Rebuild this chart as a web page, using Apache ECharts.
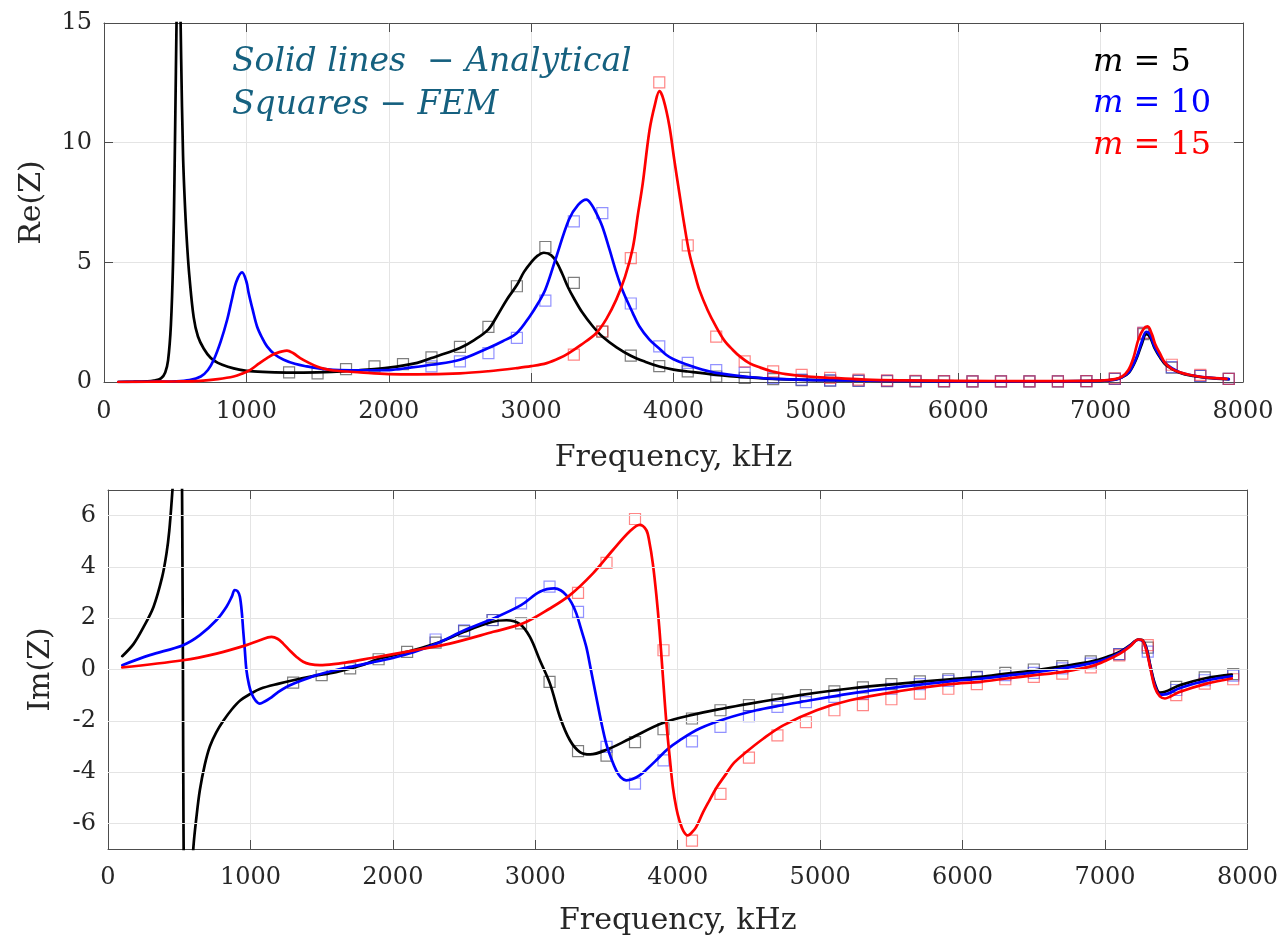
<!DOCTYPE html>
<html><head><meta charset="utf-8">
<script src="https://cdn.jsdelivr.net/npm/echarts@6/dist/echarts.min.js"></script>
<style>html,body{margin:0;padding:0;background:#fff}#c{width:1281px;height:945px}</style>
</head><body><div id="c"></div>
<script>
// ---------- tick labels ----------
const freqTicks = [0,1000,2000,3000,4000,5000,6000,7000,8000];
const reTicks = [0,5,10,15];
const imTicks = [-6,-4,-2,0,2,4,6];

// ---------- analytical curves: Re(Z) ----------
const reM5 = [[100,0],[200,0.01],[300,0.03],[350,0.06],[400,0.15],[430,0.4],[450,0.9],[470,2.4],[485,5],[495,8.5],[505,13],[515,17],[523,18.2],[532,17],[542,13.5],[555,9.5],[570,7.2],[585,5.6],[600,4.4],[630,2.7],[660,1.9],[700,1.4],[750,1.0],[800,0.8],[870,0.64],[950,0.52],[1050,0.44],[1200,0.4],[1400,0.39],[1600,0.42],[1800,0.5],[2000,0.6],[2200,0.8],[2300,1.0],[2400,1.2],[2500,1.42],[2600,1.75],[2700,2.2],[2760,2.75],[2830,3.45],[2900,4.05],[2950,4.6],[3000,5.0],[3040,5.25],[3090,5.4],[3140,5.3],[3180,5.0],[3220,4.5],[3260,3.95],[3300,3.5],[3360,2.9],[3430,2.35],[3500,1.9],[3600,1.45],[3700,1.1],[3800,0.85],[3900,0.65],[4000,0.52],[4100,0.44],[4300,0.3],[4500,0.2],[4700,0.13],[5000,0.08],[5500,0.05],[6000,0.03],[6500,0.03],[7000,0.05],[7100,0.1],[7150,0.2],[7200,0.4],[7250,0.95],[7290,1.6],[7320,2.0],[7345,1.9],[7380,1.4],[7420,1.0],[7460,0.7],[7550,0.4],[7650,0.25],[7750,0.17],[7900,0.12]];
const reM10 = [[100,0],[300,0.01],[500,0.03],[600,0.08],[680,0.23],[730,0.5],[771,0.93],[820,1.7],[865,2.6],[900,3.5],[930,4.2],[970,4.58],[1000,4.2],[1016,3.72],[1045,3.0],[1075,2.32],[1110,1.85],[1145,1.49],[1200,1.15],[1262,0.93],[1340,0.76],[1425,0.65],[1520,0.56],[1610,0.51],[1800,0.49],[2000,0.5],[2150,0.6],[2300,0.72],[2500,0.93],[2700,1.42],[2800,1.7],[2900,2.05],[2990,2.74],[3050,3.3],[3100,3.86],[3170,5.1],[3265,6.78],[3330,7.4],[3388,7.62],[3420,7.45],[3458,7.06],[3500,6.5],[3551,5.53],[3600,4.55],[3644,3.8],[3714,2.88],[3761,2.32],[3831,1.77],[3900,1.4],[3948,1.14],[4000,0.95],[4088,0.74],[4200,0.52],[4300,0.38],[4530,0.21],[4765,0.12],[5000,0.08],[5500,0.05],[6000,0.03],[6500,0.03],[7000,0.05],[7100,0.1],[7150,0.2],[7200,0.42],[7250,1.0],[7290,1.7],[7320,2.1],[7345,2.0],[7380,1.45],[7420,1.05],[7460,0.75],[7550,0.42],[7650,0.27],[7750,0.18],[7900,0.12]];
const reM15 = [[100,0],[300,0.01],[500,0.02],[677,0.05],[800,0.12],[911,0.23],[970,0.35],[1028,0.51],[1090,0.78],[1145,1.0],[1200,1.18],[1285,1.31],[1330,1.2],[1378,1.0],[1440,0.8],[1495,0.65],[1550,0.55],[1612,0.48],[1800,0.4],[2000,0.33],[2200,0.32],[2500,0.36],[2700,0.45],[2900,0.58],[3000,0.66],[3110,0.79],[3200,1.0],[3265,1.21],[3350,1.55],[3458,2.05],[3530,2.65],[3598,3.44],[3660,4.4],[3714,5.6],[3750,7.0],[3784,8.3],[3831,10.5],[3870,11.6],[3901,12.15],[3930,11.8],[3971,10.7],[4005,9.3],[4041,7.9],[4075,6.6],[4111,5.39],[4150,4.5],[4181,3.86],[4240,3.0],[4298,2.32],[4355,1.75],[4415,1.35],[4470,1.05],[4532,0.79],[4610,0.6],[4695,0.44],[4790,0.33],[4882,0.26],[5000,0.2],[5116,0.17],[5350,0.1],[5600,0.07],[6000,0.05],[6500,0.04],[7000,0.06],[7100,0.12],[7150,0.22],[7195,0.5],[7230,1.0],[7265,1.77],[7300,2.2],[7330,2.32],[7360,2.0],[7382,1.6],[7420,1.15],[7452,0.8],[7500,0.55],[7569,0.38],[7640,0.28],[7709,0.21],[7800,0.16],[7884,0.13]];

// ---------- analytical curves: Im(Z) ----------
const imM5 = [[100,0.52],[180,1.0],[250,1.66],[320,2.45],[380,3.6],[410,4.5],[430,5.4],[450,6.8],[470,8.5],[490,11],[505,12],[515,10],[522,5],[526,0],[530,-6],[540,-12],[555,-13],[570,-11],[585,-8.5],[600,-6.9],[620,-5.8],[645,-4.7],[680,-3.7],[715,-3.0],[760,-2.45],[810,-2.0],[870,-1.55],[930,-1.2],[1000,-0.95],[1070,-0.75],[1200,-0.55],[1300,-0.42],[1450,-0.25],[1600,-0.1],[1800,0.2],[1900,0.42],[2000,0.55],[2100,0.69],[2300,1.01],[2500,1.47],[2700,1.86],[2798,1.92],[2892,1.77],[2962,1.27],[3032,0.36],[3103,-0.55],[3173,-1.85],[3243,-2.76],[3313,-3.22],[3385,-3.31],[3501,-3.13],[3664,-2.7],[3898,-2.08],[4109,-1.76],[4320,-1.52],[4507,-1.33],[4700,-1.15],[4858,-1.0],[5209,-0.74],[5560,-0.55],[5911,-0.38],[6122,-0.29],[6310,-0.16],[6508,-0.03],[6707,0.13],[6907,0.32],[7012,0.49],[7105,0.69],[7176,0.95],[7234,1.17],[7260,1.15],[7290,0.85],[7320,0.1],[7350,-0.55],[7385,-0.9],[7421,-0.87],[7527,-0.61],[7714,-0.33],[7890,-0.2]];
const imM10 = [[100,0.17],[293,0.56],[527,0.95],[645,1.34],[762,1.93],[832,2.45],[870,2.85],[890,3.1],[910,3.05],[926,2.84],[940,2.2],[949,1.54],[960,0.8],[972,-0.03],[990,-0.6],[1008,-0.94],[1035,-1.2],[1066,-1.33],[1100,-1.25],[1136,-1.13],[1190,-0.9],[1253,-0.68],[1350,-0.45],[1464,-0.22],[1580,-0.05],[1698,0.1],[1850,0.27],[2000,0.45],[2150,0.68],[2307,1.01],[2506,1.54],[2705,1.99],[2900,2.51],[3032,3.03],[3135,3.16],[3180,3.08],[3217,2.9],[3255,2.6],[3288,2.19],[3320,1.6],[3358,0.88],[3390,0],[3428,-1.07],[3465,-2.1],[3498,-2.89],[3535,-3.5],[3568,-3.93],[3600,-4.2],[3638,-4.32],[3680,-4.28],[3732,-4.13],[3790,-3.85],[3849,-3.54],[3930,-3.1],[4013,-2.76],[4154,-2.3],[4341,-1.91],[4552,-1.59],[4705,-1.42],[4858,-1.27],[5209,-0.94],[5560,-0.68],[5911,-0.46],[6122,-0.36],[6310,-0.24],[6508,-0.11],[6707,0.05],[6907,0.25],[7012,0.42],[7105,0.66],[7176,0.93],[7234,1.16],[7260,1.14],[7290,0.8],[7320,0.05],[7350,-0.62],[7385,-0.98],[7421,-0.97],[7527,-0.72],[7714,-0.43],[7890,-0.27]];
const imM15 = [[100,0.08],[527,0.36],[762,0.62],[972,0.95],[1066,1.14],[1148,1.27],[1190,1.2],[1230,1.01],[1280,0.72],[1324,0.49],[1370,0.3],[1417,0.21],[1487,0.17],[1600,0.22],[1698,0.3],[1850,0.45],[2003,0.6],[2200,0.8],[2400,1.01],[2705,1.47],[2915,1.8],[3103,2.38],[3243,2.9],[3405,3.75],[3545,4.66],[3662,5.38],[3732,5.64],[3779,5.44],[3800,5.0],[3825,4.14],[3850,2.9],[3872,1.54],[3895,-0.2],[3919,-1.98],[3945,-3.5],[3966,-4.59],[3990,-5.4],[4012,-5.89],[4040,-6.3],[4071,-6.47],[4100,-6.35],[4129,-6.15],[4175,-5.6],[4223,-5.1],[4273,-4.6],[4341,-4.06],[4390,-3.67],[4481,-3.22],[4600,-2.7],[4741,-2.18],[4975,-1.59],[5209,-1.2],[5560,-0.84],[5911,-0.57],[6122,-0.48],[6310,-0.35],[6508,-0.22],[6707,-0.09],[6907,0.13],[7012,0.36],[7105,0.62],[7176,0.9],[7234,1.17],[7260,1.15],[7290,0.75],[7320,0.0],[7350,-0.7],[7385,-1.05],[7421,-1.13],[7460,-1.05],[7527,-0.87],[7714,-0.55],[7890,-0.35]];

// ---------- FEM squares ----------
const femFreq = [1300,1500,1700,1900,2100,2300,2500,2700,2900,3100,3300,3500,3700,3900,4100,4300,4500,4700,4900,5100,5300,5500,5700,5900,6100,6300,6500,6700,6900,7100,7300,7500,7700,7900];
const reFemM5  = [0.4,0.36,0.54,0.65,0.75,1.03,1.47,2.3,4.0,5.64,4.14,2.1,1.1,0.66,0.44,0.23,0.17,0.12,0.08,0.06,0.05,0.04,0.03,0.03,0.03,0.03,0.03,0.03,0.04,0.13,2.0,0.6,0.25,0.13];
const reFemM10 = [null,null,null,null,null,0.65,0.86,1.21,1.84,3.4,6.71,7.06,3.28,1.49,0.8,0.5,0.38,0.17,0.1,0.07,0.06,0.05,0.04,0.04,0.03,0.03,0.03,0.03,0.04,0.13,2.05,0.62,0.26,0.13];
const reFemM15 = [null,null,null,null,null,null,null,null,null,null,1.14,2.12,5.18,12.52,5.71,1.9,0.86,0.44,0.3,0.17,0.1,0.07,0.05,0.04,0.03,0.03,0.03,0.03,0.04,0.15,2.05,0.72,0.3,0.13];
const imFemM5  = [-0.51,-0.22,0.04,0.4,0.69,1.05,1.5,1.93,1.8,-0.48,-3.18,-3.36,-2.83,-2.33,-1.91,-1.59,-1.39,-1.17,-1.0,-0.85,-0.7,-0.57,-0.46,-0.38,-0.29,-0.13,0.0,0.13,0.32,0.6,0.85,-0.68,-0.31,-0.18];
const imFemM10 = [null,null,null,null,null,1.17,1.53,1.92,2.58,3.23,2.25,-3.02,-4.45,-3.54,-2.8,-2.24,-1.82,-1.46,-1.27,-1.07,-0.94,-0.75,-0.57,-0.44,-0.31,-0.22,-0.13,0.04,0.23,0.6,0.7,-0.8,-0.42,-0.24];
const imFemM15 = [null,null,null,null,null,null,null,null,null,null,2.99,4.16,5.87,0.75,-6.67,-4.85,-3.44,-2.57,-2.05,-1.59,-1.39,-1.16,-0.94,-0.75,-0.57,-0.38,-0.29,-0.16,0.08,0.55,0.95,-1.0,-0.55,-0.38];

const seriesNames = ['m = 5','m = 10','m = 15'];
const lineColors = ['#000000','#0000ff','#ff0000'];
const femColors = ['rgba(40,40,40,0.75)','rgba(60,60,255,0.7)','rgba(255,40,40,0.7)'];

// ---------- chart ----------
const FONT = 'DejaVu Serif';
const AX = '#4d4d4d';
const chart = echarts.init(document.getElementById('c'), null, {renderer:'canvas'});

function femPairs(vals){ const out=[]; femFreq.forEach((f,i)=>{ if(vals[i]!=null) out.push([f,vals[i]]); }); return out; }
const plain = v => String(v);

function xAxes(g){
  return [
    {gridIndex:g, type:'value', min:0, max:8000, interval:1000, position:'bottom',
     axisLine:{show:true, onZero:false, lineStyle:{color:AX, width:1}},
     axisTick:{show:true, inside:true, length:9, lineStyle:{color:AX}},
     axisLabel:{show:true, margin:g===0?18:17, formatter:plain, color:'#262626', fontFamily:FONT, fontSize:24},
     splitLine:{show:true, lineStyle:{color:'#e4e4e4', width:1}},
     name:'Frequency, kHz', nameLocation:'middle', nameGap:g===0?61:57,
     nameTextStyle:{color:'#262626', fontFamily:FONT, fontSize:30}},
    {gridIndex:g, type:'value', min:0, max:8000, interval:1000, position:'top',
     axisLine:{show:true, onZero:false, lineStyle:{color:AX, width:1}},
     axisTick:{show:true, inside:true, length:9, lineStyle:{color:AX}},
     axisLabel:{show:false}, splitLine:{show:false}}
  ];
}

const gridLinesIm = imTicks.map(v=>({yAxis:v}));
const annoStyle = {fontFamily:FONT, fontStyle:'italic', fontWeight:'normal', fontSize:33, color:'#15607f'};
function mStyle(c){ return {fontFamily:FONT, fontWeight:'normal', fontSize:32, color:c, rich:{i:{fontFamily:FONT, fontStyle:'italic', fontSize:32, color:c}}}; }

const option = {
  backgroundColor:'#ffffff',
  animation:false,
  title:[
    {left:227, top:41, text:'Solid lines  − Analytical', textStyle:annoStyle},
    {left:227, top:84, text:'Squares − FEM', textStyle:annoStyle},
    {left:1088, top:42, text:'{i|m} = 5', textStyle:mStyle(lineColors[0])},
    {left:1088, top:83, text:'{i|m} = 10', textStyle:mStyle(lineColors[1])},
    {left:1088, top:125, text:'{i|m} = 15', textStyle:mStyle(lineColors[2])}
  ],
  grid:[
    {left:104, right:38, top:23, height:359, containLabel:false},
    {left:108, right:33, top:490, height:359, containLabel:false}
  ],
  xAxis:[...xAxes(0), ...xAxes(1)],
  yAxis:[
    {gridIndex:0, type:'value', min:0, max:15, interval:5, position:'left',
     axisLine:{show:true, onZero:false, lineStyle:{color:AX, width:1}},
     axisTick:{show:true, inside:true, length:9, lineStyle:{color:AX}},
     axisLabel:{show:true, margin:12, color:'#262626', fontFamily:FONT, fontSize:24},
     splitLine:{show:true, lineStyle:{color:'#e4e4e4', width:1}},
     name:'Re(Z)', nameLocation:'middle', nameGap:57, nameRotate:90,
     nameTextStyle:{color:'#262626', fontFamily:FONT, fontSize:30}},
    {gridIndex:0, type:'value', min:0, max:15, interval:5, position:'right',
     axisLine:{show:true, onZero:false, lineStyle:{color:AX, width:1}},
     axisTick:{show:true, inside:true, length:9, lineStyle:{color:AX}},
     axisLabel:{show:false}, splitLine:{show:false}},
    {gridIndex:1, type:'value', min:-7, max:7, position:'left',
     axisLine:{show:true, onZero:false, lineStyle:{color:AX, width:1}},
     axisTick:{show:true, inside:true, length:9, customValues:imTicks, lineStyle:{color:AX}},
     axisLabel:{show:true, margin:12, customValues:imTicks, color:'#262626', fontFamily:FONT, fontSize:24},
     splitLine:{show:false},
     name:'Im(Z)', nameLocation:'middle', nameGap:52, nameRotate:90,
     nameTextStyle:{color:'#262626', fontFamily:FONT, fontSize:30}},
    {gridIndex:1, type:'value', min:-7, max:7, position:'right',
     axisLine:{show:true, onZero:false, lineStyle:{color:AX, width:1}},
     axisTick:{show:true, inside:true, length:9, customValues:imTicks, lineStyle:{color:AX}},
     axisLabel:{show:false}, splitLine:{show:false}}
  ],
  series:[]
};

const reLines=[reM5,reM10,reM15], imLines=[imM5,imM10,imM15];
const reFem=[reFemM5,reFemM10,reFemM15], imFem=[imFemM5,imFemM10,imFemM15];

// horizontal grid lines for the Im panel, placed through the axis scale
option.series.push({type:'line', xAxisIndex:2, yAxisIndex:2, data:[], silent:true, z:1,
  markLine:{silent:true, symbol:'none', label:{show:false}, animation:false,
    lineStyle:{color:'#e4e4e4', type:'solid', width:1}, data:gridLinesIm}});

for(let k=0;k<3;k++){
  option.series.push({type:'scatter', name:seriesNames[k], xAxisIndex:0, yAxisIndex:0, data:femPairs(reFem[k]),
    symbol:'rect', symbolSize:11, itemStyle:{color:'rgba(0,0,0,0)', borderColor:femColors[k], borderWidth:1.2}, z:2});
  option.series.push({type:'scatter', name:seriesNames[k], xAxisIndex:2, yAxisIndex:2, data:femPairs(imFem[k]),
    symbol:'rect', symbolSize:11, itemStyle:{color:'rgba(0,0,0,0)', borderColor:femColors[k], borderWidth:1.2}, z:2});
}
for(let k=0;k<3;k++){
  option.series.push({type:'line', name:seriesNames[k], xAxisIndex:0, yAxisIndex:0, data:reLines[k], showSymbol:false,
    smooth:0.35, clip:true, lineStyle:{color:lineColors[k], width:2.7, join:'round', cap:'round'}, z:3});
  option.series.push({type:'line', name:seriesNames[k], xAxisIndex:2, yAxisIndex:2, data:imLines[k], showSymbol:false,
    smooth:0.35, clip:true, lineStyle:{color:lineColors[k], width:2.7, join:'round', cap:'round'}, z:3});
}

chart.setOption(option);
</script>
</body></html>
